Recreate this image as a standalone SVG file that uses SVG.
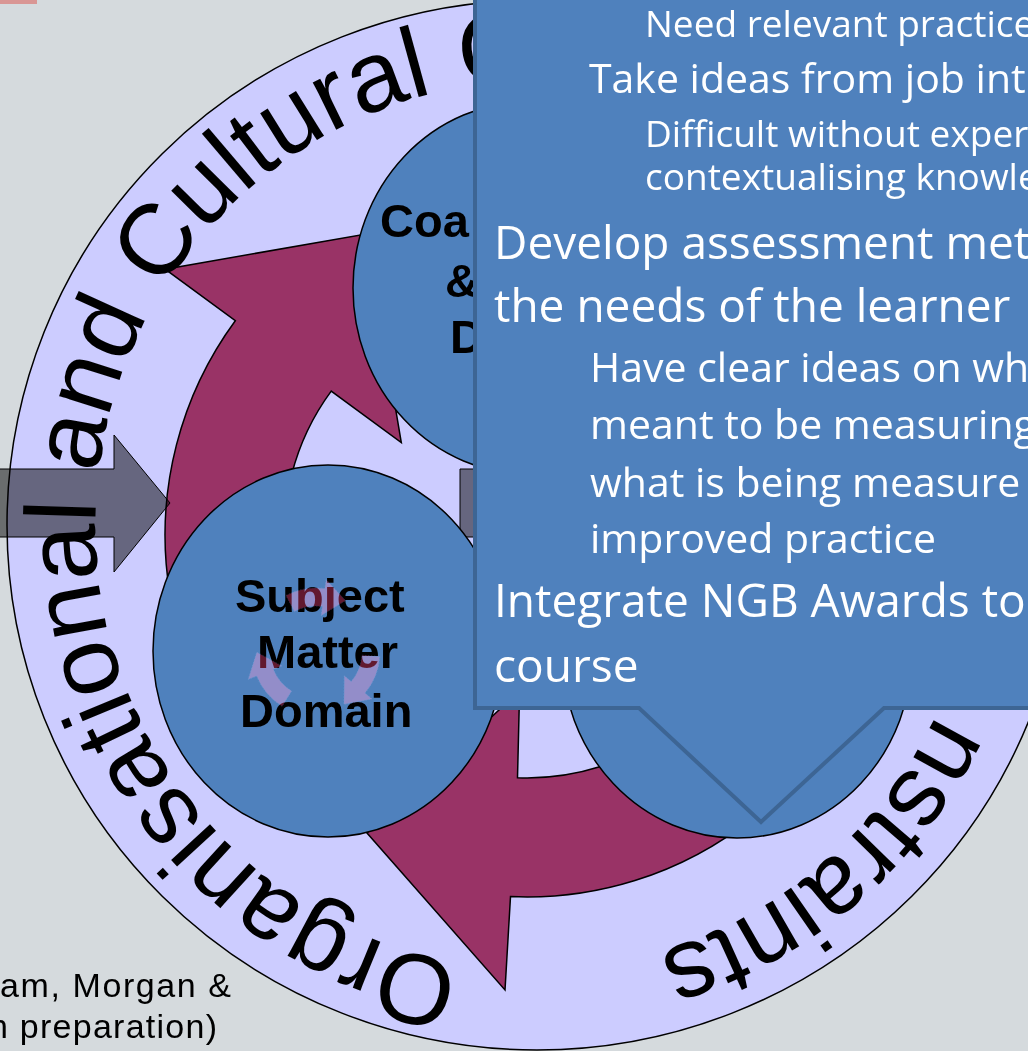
<svg xmlns="http://www.w3.org/2000/svg" width="1028" height="1051" viewBox="0 0 1028 1051">
<defs>
<style>
.node{fill:#4f81bd;stroke:#000;stroke-width:1.5}
.mag{fill:#993366;stroke:#000;stroke-width:1.5;stroke-linejoin:miter}
.gray{fill:#000;fill-opacity:0.5;stroke:#000;stroke-width:1}
.lbl{font-family:"Liberation Sans",Arial,sans-serif;font-weight:bold;font-size:47px;fill:#000}
.ring{font-family:"Liberation Sans",Arial,sans-serif;font-size:100px;fill:#000}
.co{font-family:"Open Sans","Noto Sans",sans-serif;fill:#fff}
.l1{font-size:46px}
.l2{font-size:41px}
.l3{font-size:37px}
.cyc{fill:#62192f;mix-blend-mode:screen;stroke:#303050;stroke-width:0.8;stroke-dasharray:1.5 1.5}
.cite{font-family:"Liberation Sans",Arial,sans-serif;font-size:34px;fill:#000}
</style>
<path id="ringPath" d="M 461.85 964.6 A 446 446 0 0 1 612.15 85.4 A 446 446 0 0 1 461.85 964.6"/>
</defs>
<rect width="1028" height="1051" fill="#d5dadd"/>
<rect x="0" y="0" width="37" height="4" fill="#d99694"/>
<g id="context-ring">
<ellipse cx="537" cy="525" rx="530" ry="525" fill="#ccccff" stroke="#000" stroke-width="1.5"/>
</g>
<g id="connectors">
<path class="mag" d="M 319.4 831.5 A 362 362 0 0 1 235.3 320.7 L 165.1 269.2 L 366 234 L 401.3 442.6 L 331.2 391.1 A 243 243 0 0 0 387.6 734.1 Z"/>
<path class="mag" d="M 883.5 597.9 A 362 362 0 0 1 510.5 896.6 L 505 990 L 367 833 L 519.6 690.8 L 517.5 777.7 A 243 243 0 0 0 766.3 577.2 Z"/>
<polygon class="gray" points="-5,469 114,469 114,435 170,503 114,572 114,537 -5,537"/>
<polygon class="gray" points="460,469 534,469 534,435 590,503 534,572 534,537 460,537"/>
</g>
<g id="ring-text">
<text class="ring"><textPath href="#ringPath" startOffset="0">Organisational and Cultural C</textPath></text>
<text class="ring"><textPath href="#ringPath" startOffset="2208">nstraints</textPath></text>
</g>
<g id="node-coaching">
<ellipse class="node" cx="528" cy="288" rx="175" ry="186"/>
<text class="lbl" x="380" y="237">Coa</text>
<text class="lbl" x="445" y="297">&amp;</text>
<text class="lbl" x="450" y="353">D</text>
</g>
<g id="node-subject">
<ellipse class="node" cx="328" cy="651" rx="175" ry="186"/>
<text class="lbl" x="235" y="612">Subject</text>
<text class="lbl" x="257" y="668">Matter</text>
<text class="lbl" x="240" y="727">Domain</text>
<g id="cycle-icon">
<path class="cyc" d="M 286 595.5 A 64 64 0 0 1 324.9 588.6 L 326.2 579.7 L 345.5 600.6 L 321.2 615.4 L 322.4 606.4 A 46 46 0 0 0 294.4 611.4 Z"/>
<path class="cyc" d="M 379.8 656.5 A 64 64 0 0 1 365 693.1 L 371.9 698.9 L 344 704.3 L 344.3 675.8 L 351.2 681.6 A 46 46 0 0 0 361.9 655.2 Z"/>
<path class="cyc" d="M 282.1 706.3 A 64 64 0 0 1 256.7 676 L 248.3 679.3 L 256.8 652.2 L 281.7 665.9 L 273.3 669.2 A 46 46 0 0 0 291.6 691 Z"/>
</g>
</g>
<g id="node-third">
<ellipse class="node" cx="737" cy="652" rx="175" ry="186"/>
</g>
<g id="callout">
<path d="M 475 -10 H 1100 V 708 H 884 L 761 822 L 639 708 H 475 Z" fill="#4f81bd" stroke="#3d6594" stroke-width="4"/>
<text class="co l3" x="645" y="37">Need relevant practice</text>
<text class="co l2" x="589" y="93">Take ideas from job int</text>
<text class="co l3" x="645" y="147">Difficult without exper</text>
<text class="co l3" x="645" y="190">contextualising knowle</text>
<text class="co l1" x="494" y="259">Develop assessment met</text>
<text class="co l1" x="494" y="322">the needs of the learner</text>
<text class="co l2" x="590" y="382">Have clear ideas on wh</text>
<text class="co l2" x="590" y="439">meant to be measuring</text>
<text class="co l2" x="590" y="497">what is being measure</text>
<text class="co l2" x="590" y="553">improved practice</text>
<text class="co l1" x="494" y="617">Integrate NGB Awards to</text>
<text class="co l1" x="494" y="682">course</text>
</g>
<g id="citation">
<text class="cite" x="0" y="997" textLength="231" lengthAdjust="spacing">am, Morgan &amp;</text>
<text class="cite" x="-11" y="1038" textLength="228" lengthAdjust="spacing">n preparation)</text>
</g>
</svg>
